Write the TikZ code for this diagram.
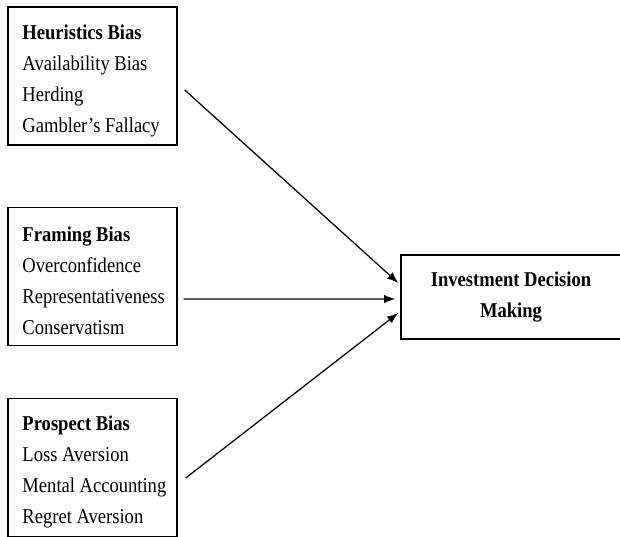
\documentclass[tikz,border=0pt]{standalone}
\usepackage{fontspec}
\setmainfont[FakeStretch=0.88]{Liberation Serif}
\usetikzlibrary{positioning, arrows.meta}
\tikzset{biasbox/.style={draw, line width=1pt, minimum width=4.225cm, minimum height=3.45cm,
                         text width=3.5cm, align=flush left, font=\fontsize{15}{22}\selectfont,
                         execute at begin node={\hyphenpenalty=10000\rule{0pt}{17pt}}},
         outcome/.style={draw, line width=1pt, minimum width=5.5cm, minimum height=2.1cm,
                         align=center, font=\fontsize{15}{22}\selectfont\bfseries},
         arr/.style={line width=0.9pt, -{Latex[length=8pt,width=6pt]}},
        }

\begin{document}
\begin{tikzpicture}[x=0.025cm, y=-0.025cm]
        \useasboundingbox (0,0) rectangle (620,537);
        \node[biasbox](heur)at(92.5,76){\textbf{Heuristics Bias}\\Availability Bias\\Herding\\Gambler's Fallacy};
        \node[biasbox](frame)at(92.5,276.5){\textbf{Framing Bias}\\Overconfidence\\Representativeness\\Conservatism};
        \node[biasbox](prosp)at(92.5,467.5){\textbf{Prospect Bias}\\Loss Aversion\\\mbox{Mental Accounting}\\Regret Aversion};
        \node[outcome](idm)at(511,297){Investment Decision\\Making};

        \draw[arr]([shift={(7,14)}]heur.east)--([shift={(-2,-14)}]idm.west);
        \draw[arr]([shift={(6,22.5)}]frame.east)--([shift={(-5,2)}]idm.west);
        \draw[arr]([shift={(8,10.5)}]prosp.east)--([shift={(-2,16)}]idm.west);
    \end{tikzpicture}
\end{document}
